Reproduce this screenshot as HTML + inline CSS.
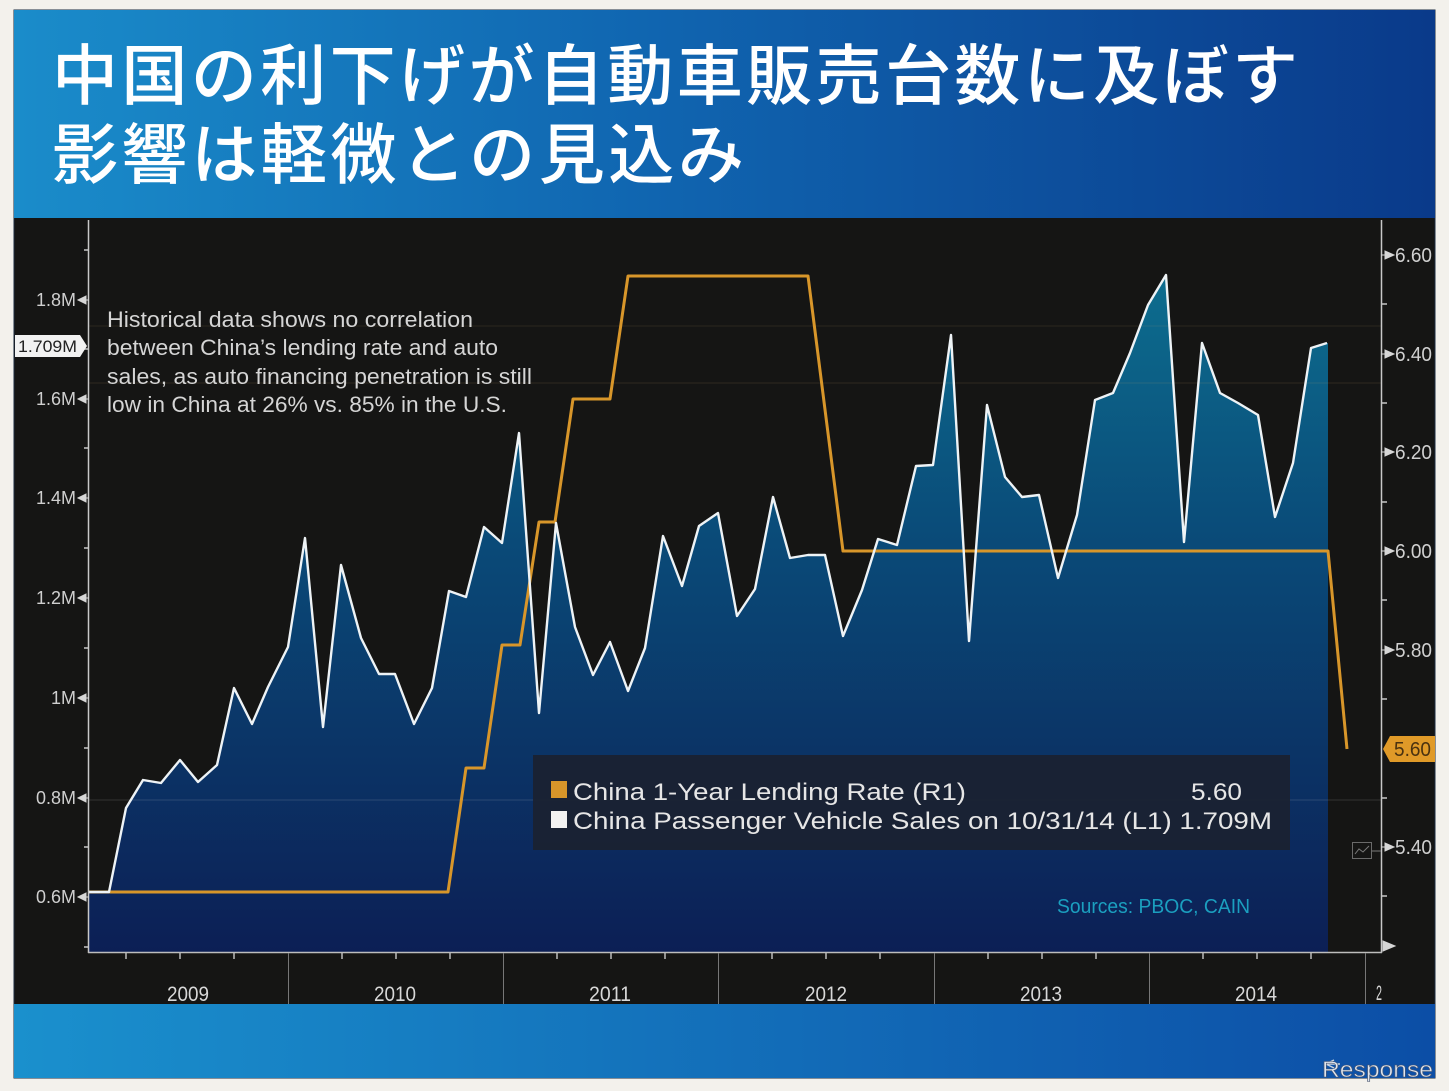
<!DOCTYPE html>
<html><head><meta charset="utf-8"><style>
html,body{margin:0;padding:0;background:#f3f1ec;}
svg{display:block;}
</style></head><body>
<svg width="1449" height="1091" viewBox="0 0 1449 1091" xmlns="http://www.w3.org/2000/svg">
<defs>
<linearGradient id="tg" x1="0" y1="0" x2="1" y2="0">
<stop offset="0" stop-color="#1a8cca"/><stop offset="0.45" stop-color="#1065b0"/><stop offset="1" stop-color="#0a3a8a"/>
</linearGradient>
<linearGradient id="bg" x1="0" y1="0" x2="1" y2="0">
<stop offset="0" stop-color="#1a90cd"/><stop offset="1" stop-color="#0c4ea6"/>
</linearGradient>
<linearGradient id="fg" gradientUnits="userSpaceOnUse" x1="0" y1="270" x2="0" y2="952">
<stop offset="0" stop-color="#0d6e8f"/><stop offset="0.4" stop-color="#0a4a78"/><stop offset="1" stop-color="#0c1f55"/>
</linearGradient>
</defs>
<rect x="0" y="0" width="1449" height="1091" fill="#f3f1ec"/>
<rect x="14" y="10" width="1421" height="1068" fill="#151514" stroke="#1b2a40" stroke-width="1"/>
<rect x="14" y="10" width="1421" height="208" fill="url(#tg)"/>
<rect x="14" y="1004" width="1421" height="74" fill="url(#bg)"/>
<g font-family="'Liberation Sans','Noto Sans CJK JP',sans-serif" font-weight="500" font-size="66" fill="#ffffff">
<text x="52" y="99" textLength="1246" lengthAdjust="spacing">中国の利下げが自動車販売台数に及ぼす</text>
<text x="52" y="178" textLength="692" lengthAdjust="spacing">影響は軽微との見込み</text>
</g>
<polygon fill="url(#fg)" points="88,952 88,892 109,892 126,808 143,780 161,783 180,760 198,782 217,765 234,688 252,724 268,687 288,647 305,538 323,727 341,565 361,638 379,674 395,674 414,724 432,688 449,591 466,597 484,527 502,543 519,433 539,713 556,523 575,627 593,675 610,642 628,691 645,648 663,536 682,586 699,526 718,513 737,616 755,589 773,497 790,558 808,555 825,555 843,636 862,590 878,539 897,545 916,466 933,465 951,335 969,641 987,405 1005,477 1022,497 1039,495 1058,578 1077,515 1095,400 1113,393 1130,353 1148,305 1166,275 1184,542 1202,343 1220,393 1238,403 1258,415 1275,517 1293,463 1311,348 1327,343 1328,343 1328,952"/>
<g stroke-width="1">
<line x1="88" y1="326" x2="1381" y2="326" stroke="rgba(200,160,100,0.13)"/>
<line x1="88" y1="383" x2="1381" y2="383" stroke="rgba(200,160,100,0.15)"/>
<line x1="88" y1="800" x2="1381" y2="800" stroke="rgba(210,210,210,0.16)"/>
</g>
<rect x="533" y="755" width="757" height="95" fill="#1b2130" opacity="0.93"/>
<rect x="551" y="781" width="16" height="17" fill="#d8962a"/>
<rect x="551" y="811" width="16" height="17" fill="#f2f2f2"/>
<g font-family="'Liberation Sans',sans-serif" font-size="24" fill="#e6e6e6">
<text x="573" y="800" textLength="393" lengthAdjust="spacingAndGlyphs">China 1-Year Lending Rate (R1)</text>
<text x="1191" y="800" textLength="51" lengthAdjust="spacingAndGlyphs">5.60</text>
<text x="573" y="829" textLength="699" lengthAdjust="spacingAndGlyphs">China Passenger Vehicle Sales on 10/31/14 (L1) 1.709M</text>
</g>
<polyline fill="none" stroke="#d8962a" stroke-width="3" stroke-linejoin="round" points="88,892 448,892 466,768 484,768 502,645 520,645 539,522 555,522 573,399 610,399 628,276 808,276 843,551 1328,551 1347,749"/>
<polyline fill="none" stroke="#eef3f6" stroke-width="2.4" stroke-linejoin="round" points="88,892 109,892 126,808 143,780 161,783 180,760 198,782 217,765 234,688 252,724 268,687 288,647 305,538 323,727 341,565 361,638 379,674 395,674 414,724 432,688 449,591 466,597 484,527 502,543 519,433 539,713 556,523 575,627 593,675 610,642 628,691 645,648 663,536 682,586 699,526 718,513 737,616 755,589 773,497 790,558 808,555 825,555 843,636 862,590 878,539 897,545 916,466 933,465 951,335 969,641 987,405 1005,477 1022,497 1039,495 1058,578 1077,515 1095,400 1113,393 1130,353 1148,305 1166,275 1184,542 1202,343 1220,393 1238,403 1258,415 1275,517 1293,463 1311,348 1327,343"/>
<g font-family="'Liberation Sans',sans-serif" font-size="22" fill="#d5d5d5">
<text x="107" y="327" textLength="366" lengthAdjust="spacingAndGlyphs">Historical data shows no correlation</text>
<text x="107" y="355" textLength="391" lengthAdjust="spacingAndGlyphs">between China’s lending rate and auto</text>
<text x="107" y="384" textLength="425" lengthAdjust="spacingAndGlyphs">sales, as auto financing penetration is still</text>
<text x="107" y="412" textLength="400" lengthAdjust="spacingAndGlyphs">low in China at 26% vs. 85% in the U.S.</text>
</g>
<text x="1057" y="913" font-family="'Liberation Sans',sans-serif" font-size="20" fill="#1b9fbf" textLength="193" lengthAdjust="spacingAndGlyphs">Sources: PBOC, CAIN</text>
<!-- left axis -->
<line x1="88.5" y1="220" x2="88.5" y2="953" stroke="#c8c8c8" stroke-width="1.5"/>
<g stroke="#c8c8c8" stroke-width="1.5">
<line x1="84" y1="250" x2="89" y2="250"/><line x1="84" y1="349" x2="89" y2="349"/><line x1="84" y1="448" x2="89" y2="448"/><line x1="84" y1="548" x2="89" y2="548"/><line x1="84" y1="648" x2="89" y2="648"/><line x1="84" y1="748" x2="89" y2="748"/><line x1="84" y1="847" x2="89" y2="847"/><line x1="84" y1="947" x2="89" y2="947"/>
</g>
<g fill="#d6d6d6" stroke="#d6d6d6" stroke-width="1">
<polygon points="78,300 86,296 86,304"/><line x1="86" y1="300" x2="89" y2="300"/>
<polygon points="78,399 86,395 86,403"/><line x1="86" y1="399" x2="89" y2="399"/>
<polygon points="78,498 86,494 86,502"/><line x1="86" y1="498" x2="89" y2="498"/>
<polygon points="78,598 86,594 86,602"/><line x1="86" y1="598" x2="89" y2="598"/>
<polygon points="78,698 86,694 86,702"/><line x1="86" y1="698" x2="89" y2="698"/>
<polygon points="78,798 86,794 86,802"/><line x1="86" y1="798" x2="89" y2="798"/>
<polygon points="78,897 86,893 86,901"/><line x1="86" y1="897" x2="89" y2="897"/>
</g>
<g font-family="'Liberation Sans',sans-serif" font-size="18" fill="#cfcfcf" text-anchor="end">
<text x="76" y="306" textLength="40" lengthAdjust="spacingAndGlyphs">1.8M</text>
<text x="76" y="405" textLength="40" lengthAdjust="spacingAndGlyphs">1.6M</text>
<text x="76" y="504" textLength="40" lengthAdjust="spacingAndGlyphs">1.4M</text>
<text x="76" y="604" textLength="40" lengthAdjust="spacingAndGlyphs">1.2M</text>
<text x="76" y="704" textLength="25" lengthAdjust="spacingAndGlyphs">1M</text>
<text x="76" y="804" textLength="40" lengthAdjust="spacingAndGlyphs">0.8M</text>
<text x="76" y="903" textLength="40" lengthAdjust="spacingAndGlyphs">0.6M</text>
</g>
<polygon points="15,335 80,335 87,346 80,357 15,357" fill="#f2f2f2"/>
<text x="18" y="352" font-family="'Liberation Sans',sans-serif" font-size="17" fill="#222" textLength="59" lengthAdjust="spacingAndGlyphs">1.709M</text>
<!-- right axis -->
<line x1="1381.5" y1="220" x2="1381.5" y2="953" stroke="#c8c8c8" stroke-width="1.5"/>
<g stroke="#c8c8c8" stroke-width="1.5">
<line x1="1381" y1="304" x2="1387" y2="304"/><line x1="1381" y1="403" x2="1387" y2="403"/><line x1="1381" y1="502" x2="1387" y2="502"/><line x1="1381" y1="600" x2="1387" y2="600"/><line x1="1381" y1="699" x2="1387" y2="699"/><line x1="1381" y1="798" x2="1387" y2="798"/><line x1="1381" y1="896" x2="1387" y2="896"/>
</g>
<g fill="#d6d6d6" stroke="#d6d6d6" stroke-width="1">
<polygon points="1394,255 1385,251 1385,259"/><line x1="1381" y1="255" x2="1385" y2="255"/>
<polygon points="1394,354 1385,350 1385,358"/><line x1="1381" y1="354" x2="1385" y2="354"/>
<polygon points="1394,452 1385,448 1385,456"/><line x1="1381" y1="452" x2="1385" y2="452"/>
<polygon points="1394,551 1385,547 1385,555"/><line x1="1381" y1="551" x2="1385" y2="551"/>
<polygon points="1394,650 1385,646 1385,654"/><line x1="1381" y1="650" x2="1385" y2="650"/>
<polygon points="1394,847 1385,843 1385,851"/><line x1="1381" y1="847" x2="1385" y2="847"/>
<polygon points="1395,946 1383,941 1383,951"/>
</g>
<g font-family="'Liberation Sans',sans-serif" font-size="20" fill="#d0d0d0">
<text x="1395" y="262" textLength="37" lengthAdjust="spacingAndGlyphs">6.60</text>
<text x="1395" y="361" textLength="37" lengthAdjust="spacingAndGlyphs">6.40</text>
<text x="1395" y="459" textLength="37" lengthAdjust="spacingAndGlyphs">6.20</text>
<text x="1395" y="558" textLength="37" lengthAdjust="spacingAndGlyphs">6.00</text>
<text x="1395" y="657" textLength="37" lengthAdjust="spacingAndGlyphs">5.80</text>
<text x="1395" y="854" textLength="37" lengthAdjust="spacingAndGlyphs">5.40</text>
</g>
<polygon points="1383,749 1390,736 1435,736 1435,762 1390,762" fill="#e09a28"/>
<text x="1394" y="756" font-family="'Liberation Sans',sans-serif" font-size="20" fill="#4a3210" textLength="37" lengthAdjust="spacingAndGlyphs">5.60</text>
<rect x="1352.5" y="842.5" width="19" height="16" fill="none" stroke="#6a6a6a" stroke-width="1"/>
<polyline points="1355,854 1359,849 1363,852 1369,846" fill="none" stroke="#7a7a7a" stroke-width="1"/>
<line x1="1372" y1="851" x2="1381" y2="851" stroke="#7a7a7a" stroke-width="1"/>
<!-- x axis -->
<line x1="88" y1="952.5" x2="1382" y2="952.5" stroke="#bdbdbd" stroke-width="1.5"/>
<g stroke="#777" stroke-width="1">
<line x1="288.5" y1="953" x2="288.5" y2="1004"/><line x1="503.5" y1="953" x2="503.5" y2="1004"/><line x1="718.5" y1="953" x2="718.5" y2="1004"/><line x1="934.5" y1="953" x2="934.5" y2="1004"/><line x1="1149.5" y1="953" x2="1149.5" y2="1004"/><line x1="1365.5" y1="953" x2="1365.5" y2="1004"/>
</g>
<g stroke="#bdbdbd" stroke-width="1.5">
<line x1="126" y1="953" x2="126" y2="959"/><line x1="180" y1="953" x2="180" y2="959"/><line x1="234" y1="953" x2="234" y2="959"/>
<line x1="342" y1="953" x2="342" y2="959"/><line x1="396" y1="953" x2="396" y2="959"/><line x1="450" y1="953" x2="450" y2="959"/>
<line x1="557" y1="953" x2="557" y2="959"/><line x1="611" y1="953" x2="611" y2="959"/><line x1="665" y1="953" x2="665" y2="959"/>
<line x1="772" y1="953" x2="772" y2="959"/><line x1="826" y1="953" x2="826" y2="959"/><line x1="880" y1="953" x2="880" y2="959"/>
<line x1="988" y1="953" x2="988" y2="959"/><line x1="1042" y1="953" x2="1042" y2="959"/><line x1="1096" y1="953" x2="1096" y2="959"/>
<line x1="1203" y1="953" x2="1203" y2="959"/><line x1="1257" y1="953" x2="1257" y2="959"/><line x1="1311" y1="953" x2="1311" y2="959"/>
</g>
<g font-family="'Liberation Sans',sans-serif" font-size="21" fill="#d8d8d8" text-anchor="middle">
<text x="188" y="1001" textLength="42" lengthAdjust="spacingAndGlyphs">2009</text>
<text x="395" y="1001" textLength="42" lengthAdjust="spacingAndGlyphs">2010</text>
<text x="610" y="1001" textLength="42" lengthAdjust="spacingAndGlyphs">2011</text>
<text x="826" y="1001" textLength="42" lengthAdjust="spacingAndGlyphs">2012</text>
<text x="1041" y="1001" textLength="42" lengthAdjust="spacingAndGlyphs">2013</text>
<text x="1256" y="1001" textLength="42" lengthAdjust="spacingAndGlyphs">2014</text>
<text x="1379" y="1000" textLength="6" lengthAdjust="spacingAndGlyphs">2</text>
</g>
<!-- Response logo -->
<path d="M1334,1060 l-8,4 l8,4 M1326,1064 h14" fill="none" stroke="#c9d3e0" stroke-width="1.5"/>
<text x="1322" y="1077" font-family="'Liberation Sans',sans-serif" font-size="22" fill="#dfe6ef" stroke="#4a5670" stroke-width="0.6" textLength="111" lengthAdjust="spacingAndGlyphs">Response</text>
</svg>
</body></html>
